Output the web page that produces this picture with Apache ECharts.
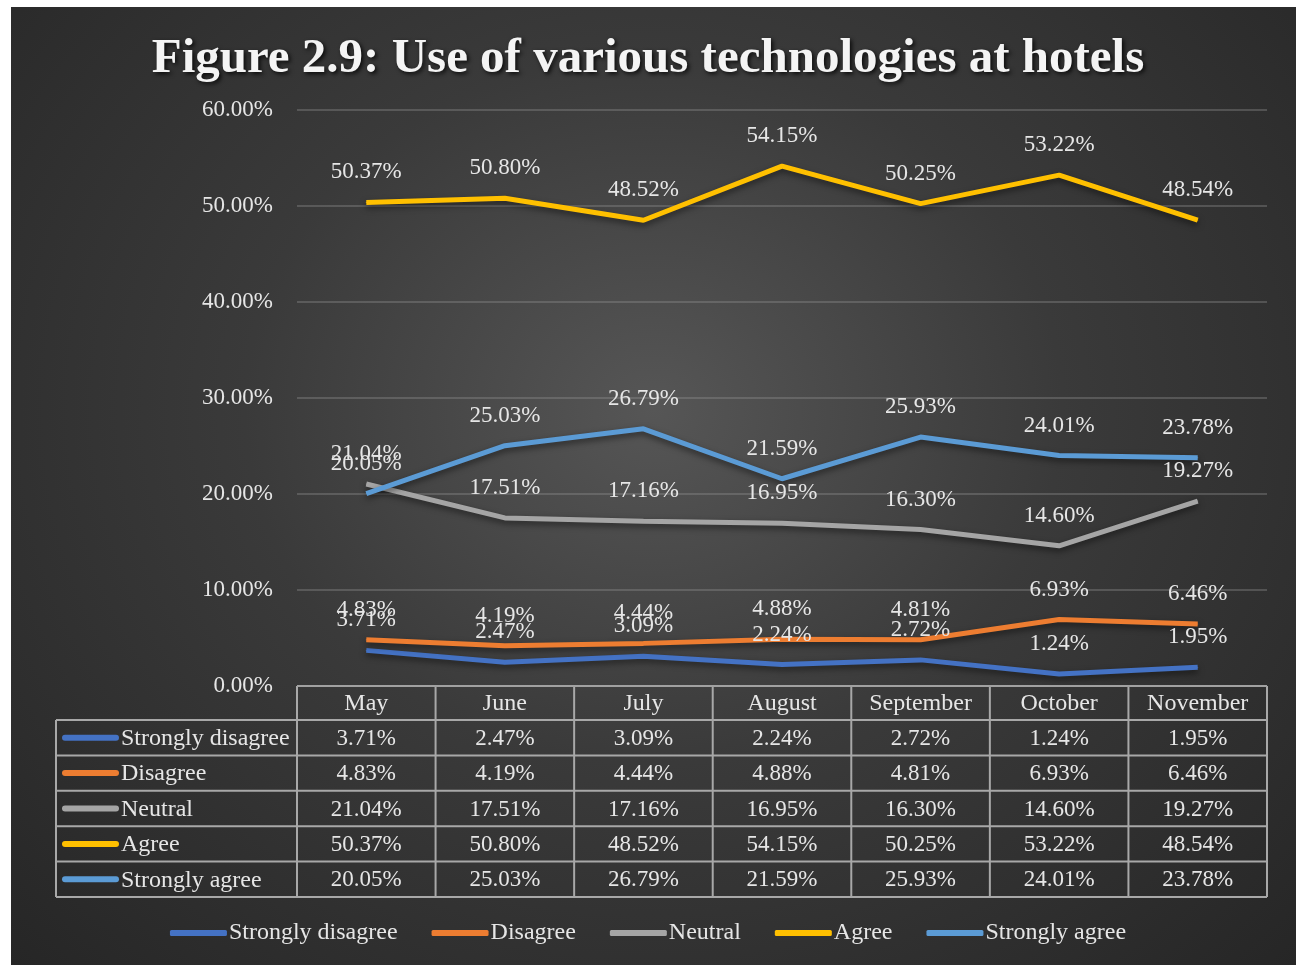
<!DOCTYPE html>
<html>
<head>
<meta charset="utf-8">
<script src="https://cdn.jsdelivr.net/npm/echarts@6/dist/echarts.min.js"></script>
<style>
  html, body { margin: 0; padding: 0; background: #fff; }
  #bg {
    position: absolute; left: 11px; top: 7px; right: 0; bottom: 0;
    background: radial-gradient(ellipse at 50% 42%, #565656 0%, #3a3a3a 45%, #262626 100%);
  }
  #main { position: absolute; left: 0; top: 0; width: 1296px; height: 965px; }
</style>
</head>
<body>
<div id="bg"></div>
<div id="main"></div>
<script>
// data
const months = ['May', 'June', 'July', 'August', 'September', 'October', 'November']
const seriesNames = ['Strongly disagree', 'Disagree', 'Neutral', 'Agree', 'Strongly agree']
const stronglyDisagree = [3.71, 2.47, 3.09, 2.24, 2.72, 1.24, 1.95]
const disagree = [4.83, 4.19, 4.44, 4.88, 4.81, 6.93, 6.46]
const neutral = [21.04, 17.51, 17.16, 16.95, 16.30, 14.60, 19.27]
const agree = [50.37, 50.80, 48.52, 54.15, 50.25, 53.22, 48.54]
const stronglyAgree = [20.05, 25.03, 26.79, 21.59, 25.93, 24.01, 23.78]
const allData = [stronglyDisagree, disagree, neutral, agree, stronglyAgree]
const colors = ['#4472C4', '#ED7D31', '#A5A5A5', '#FFC000', '#5B9BD5']

const font = 'Liberation Serif'
const textColor = '#e6e6e6'
const numFont = '23px "' + font + '"'
const nameFont = '24px "' + font + '"'

// layout of plot + table
const gLeft = 297, gRight = 1267, gTop = 110, gBottom = 686
const headerH = 34, rowH = 35.4, tableLeft = 56
const colW = (gRight - gLeft) / months.length
const lineColor = '#a8a8a8'

const fmt = v => v.toFixed(2) + '%'

let graphics = []
const tableBottom = gBottom + headerH + rowH * seriesNames.length
// horizontal lines
graphics.push({ type: 'line', shape: { x1: gLeft, y1: gBottom, x2: gRight, y2: gBottom }, style: { stroke: lineColor, lineWidth: 2 } })
for (let r = 0; r <= seriesNames.length; r++) {
  let y = gBottom + headerH + r * rowH
  graphics.push({ type: 'line', shape: { x1: tableLeft, y1: y, x2: gRight, y2: y }, style: { stroke: lineColor, lineWidth: 2 } })
}
// vertical lines
graphics.push({ type: 'line', shape: { x1: tableLeft, y1: gBottom + headerH, x2: tableLeft, y2: tableBottom }, style: { stroke: lineColor, lineWidth: 2 } })
for (let c = 0; c <= months.length; c++) {
  let x = gLeft + c * colW
  graphics.push({ type: 'line', shape: { x1: x, y1: gBottom, x2: x, y2: tableBottom }, style: { stroke: lineColor, lineWidth: 2 } })
}
// header
months.forEach((m, c) => {
  graphics.push({ type: 'text', x: gLeft + (c + 0.5) * colW, y: gBottom + headerH / 2 + 1,
    style: { text: m, fill: textColor, font: nameFont, align: 'center', verticalAlign: 'middle' } })
})
// rows
seriesNames.forEach((name, r) => {
  let cy = gBottom + headerH + (r + 0.5) * rowH + 1
  graphics.push({ type: 'line', shape: { x1: 65, y1: cy - 1, x2: 116, y2: cy - 1 },
    style: { stroke: colors[r], lineWidth: 6, lineCap: 'round' } })
  graphics.push({ type: 'text', x: 121, y: cy,
    style: { text: name, fill: textColor, font: nameFont, align: 'left', verticalAlign: 'middle' } })
  allData[r].forEach((v, c) => {
    graphics.push({ type: 'text', x: gLeft + (c + 0.5) * colW, y: cy,
      style: { text: fmt(v), fill: textColor, font: numFont, align: 'center', verticalAlign: 'middle' } })
  })
})

let option = {
  backgroundColor: 'transparent',
  animation: false,
  title: {
    text: 'Figure 2.9: Use of various technologies at hotels',
    left: 'center',
    top: 30,
    textStyle: {
      fontFamily: font,
      fontWeight: 'bold',
      fontSize: 49,
      color: '#f4f4f4',
      textShadowColor: 'rgba(0,0,0,0.8)',
      textShadowBlur: 4,
      textShadowOffsetX: 2,
      textShadowOffsetY: 2
    }
  },
  legend: {
    data: seriesNames,
    bottom: 15,
    left: 'center',
    icon: 'roundRect',
    itemWidth: 57,
    itemHeight: 6,
    itemGap: 34,
    textStyle: { fontFamily: font, fontSize: 24, color: textColor, padding: [0, 0, 0, -3] }
  },
  grid: { left: gLeft, right: 1296 - gRight, top: gTop, bottom: 965 - gBottom },
  xAxis: {
    type: 'category',
    data: months,
    boundaryGap: true,
    axisLine: { show: false },
    axisTick: { show: false },
    axisLabel: { show: false }
  },
  yAxis: {
    type: 'value',
    min: 0,
    max: 60,
    interval: 10,
    axisLine: { show: false },
    axisTick: { show: false },
    axisLabel: {
      formatter: v => v.toFixed(2) + '%',
      fontFamily: font,
      fontSize: 23,
      color: textColor,
      margin: 24
    },
    splitLine: { lineStyle: { color: 'rgba(150,150,150,0.35)', width: 2 } }
  },
  graphic: graphics,
  series: seriesNames.map((name, i) => ({
    name: name,
    type: 'line',
    data: allData[i],
    symbol: 'circle',
    symbolSize: 1,
    showSymbol: true,
    itemStyle: { color: colors[i] },
    color: colors[i],
    lineStyle: {
      width: 5,
      color: colors[i],
      shadowColor: 'rgba(0,0,0,0.5)',
      shadowBlur: 6,
      shadowOffsetY: 3
    },
    label: {
      show: true,
      position: 'top',
      distance: 18,
      formatter: p => fmt(p.value),
      fontFamily: font,
      fontSize: 23,
      color: textColor
    }
  }))
}

let chart = echarts.init(document.getElementById('main'))
chart.setOption(option)
</script>
</body>
</html>
